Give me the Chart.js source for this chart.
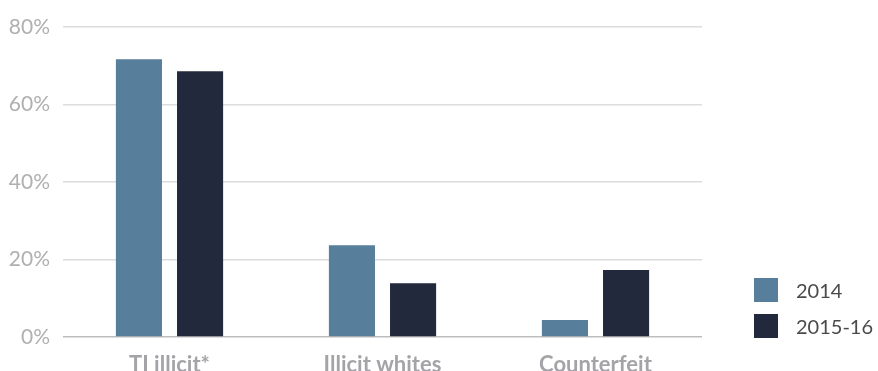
<!DOCTYPE html>
<html><head><meta charset="utf-8">
<script src="https://cdn.jsdelivr.net/npm/chart.js@4.4.0/dist/chart.umd.min.js"></script>
<style>
html,body{margin:0;padding:0;background:#fff;overflow:hidden;width:878px;height:371px;}
#wrap{position:absolute;left:0;top:0;width:878px;height:380px;}
.leg{position:absolute;left:754px;font-family:Lato,sans-serif;font-size:20px;color:#4a4a4a;}
.leg span.box{position:absolute;left:0;width:24px;height:24px;}
.leg span.t{position:absolute;left:42px;white-space:nowrap;line-height:24px;}
</style></head><body>
<div id="wrap"><canvas id="c" width="878" height="380"></canvas></div>
<div class="leg" id="l1" style="top:278px"></div>
<div class="leg" id="l2" style="top:314px"></div>
<script>
const categories = ["TI illicit*", "Illicit whites", "Counterfeit"];
const seriesNames = ["2014", "2015-16"];
const values2014 = [71.7, 23.7, 4.4];
const values2015_16 = [68.6, 13.9, 17.3];
const yTicks = [0, 20, 40, 60, 80];
const colors = ["#577E9A", "#23293C"];

[values2014, values2015_16].forEach((v,i)=>{
  const el=document.getElementById('l'+(i+1));
  el.innerHTML='<span class="box" style="background:'+colors[i]+'"></span><span class="t">'+seriesNames[i]+'</span>';
});

new Chart(document.getElementById('c'), {
  type: 'bar',
  data: {
    labels: categories,
    datasets: [
      {label: seriesNames[0], data: values2014, backgroundColor: colors[0], barPercentage: 0.754, categoryPercentage: 0.574},
      {label: seriesNames[1], data: values2015_16, backgroundColor: colors[1], barPercentage: 0.754, categoryPercentage: 0.574}
    ]
  },
  options: {
    responsive: false, animation: false,
    layout: {padding: {top: 27, right: 176, left: 0, bottom: 0}},
    plugins: {legend: {display: false}, tooltip: {enabled: false}},
    scales: {
      x: {
        grid: {display: false, drawTicks: false},
        border: {display: false},
        ticks: {color: '#a4a4a8', font: {family: 'Lato', size: 22, weight: 'bold'}, padding: 15},
        afterFit: s => { s.height = 43; }
      },
      y: {
        min: 0, max: 80,
        afterBuildTicks: s => { s.ticks = yTicks.map(v => ({value: v})); },
        grid: {color: ctx => ctx.tick && ctx.tick.value === 0 ? '#bdbdbd' : '#dcdcdc', lineWidth: 1.5, drawTicks: false},
        border: {display: false},
        ticks: {color: '#b0b0b0', font: {family: 'Lato', size: 21}, padding: 13, callback: v => v + '%'},
        afterFit: s => { s.width = 63; }
      }
    }
  }
});
</script>
</body></html>
